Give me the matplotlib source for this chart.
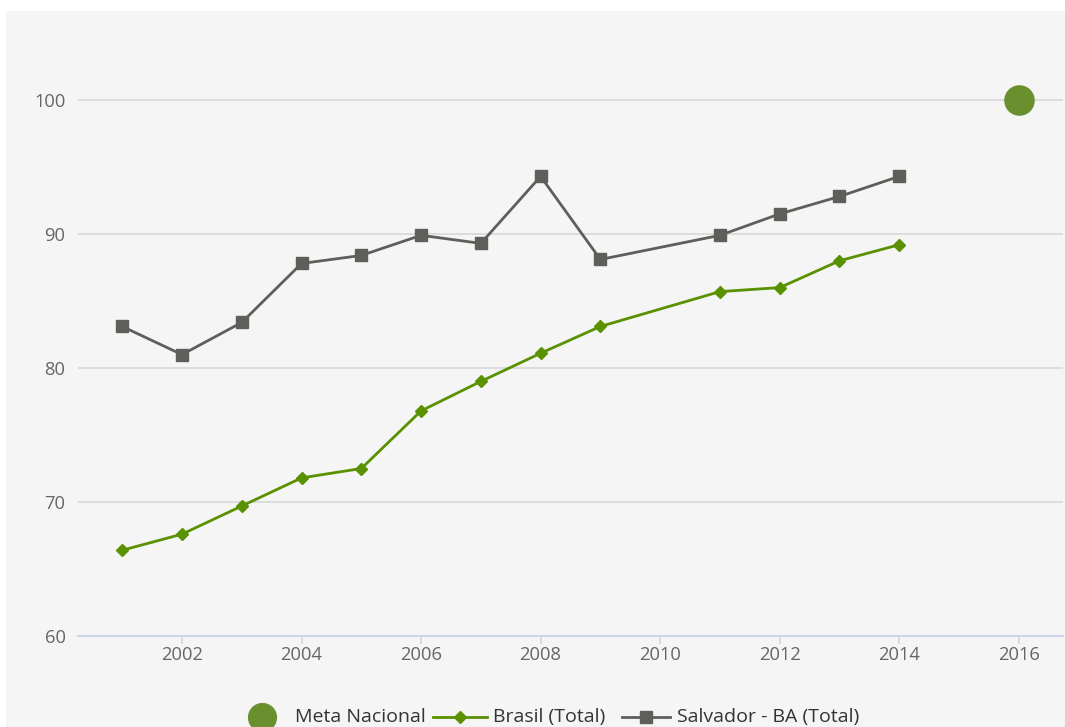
import matplotlib
matplotlib.use("Agg")
import matplotlib.pyplot as plt
from matplotlib.lines import Line2D
from matplotlib.patches import Rectangle
import numpy as np

# Series data
years = [2001, 2002, 2003, 2004, 2005, 2006, 2007, 2008, 2009, 2011, 2012, 2013, 2014]
brasil = [66.4, 67.6, 69.7, 71.8, 72.5, 76.8, 79.0, 81.1, 83.1, 85.7, 86.0, 88.0, 89.2]
salvador = [83.1, 81.0, 83.4, 87.8, 88.4, 89.9, 89.3, 94.3, 88.1, 89.9, 91.5, 92.8, 94.3]
meta_year = [2016]
meta_value = [100]

x_ticks = [2002, 2004, 2006, 2008, 2010, 2012, 2014, 2016]
y_ticks = [60, 70, 80, 90, 100]

labels = ["Meta Nacional", "Brasil (Total)", "Salvador - BA (Total)"]

GREEN = "#5a9100"
META = "#6a8f2f"
GRAY = "#5e5f5a"
GRID = "#d8d8d8"
AXIS = "#ccd6eb"
TICKTXT = "#666666"
LEGTXT = "#333333"
FONT = "Open Sans"

W, H = 1065, 727
fig = plt.figure(figsize=(W / 100, H / 100), dpi=100, facecolor="white")

# light panel behind the chart
fig.patches.append(Rectangle((6 / W, 0), (W - 6) / W, (H - 11) / H,
                             transform=fig.transFigure, facecolor="#f5f5f5",
                             edgecolor="none", zorder=-10))

left, right = 78 / W, 1063 / W
bottom, top = 1 - 636 / H, 1 - 40 / H
ax = fig.add_axes([left, bottom, right - left, top - bottom])
ax.set_zorder(1)
ax.set_facecolor("none")

# 2010 is absent from both series, so the line joins 2009 to 2011
ax.plot(years, salvador, color=GRAY, lw=2.0, marker="s", ms=8.5, zorder=3)
ax.plot(years, brasil, color=GREEN, lw=2.0, marker="D", ms=6, zorder=4)
ax.plot(meta_year, meta_value, linestyle="none", marker="o", ms=21,
        color=META, zorder=5, clip_on=False)

ax.set_xlim(2000.26, 2016.74)
ax.set_ylim(60, 60 + (636 - 40) / 13.4)

ax.set_yticks(y_ticks)
ax.set_xticks(x_ticks)
ax.set_xticklabels([str(t) for t in x_ticks])
ax.set_yticklabels([str(t) for t in y_ticks])

for t in y_ticks[1:]:
    ax.axhline(t, color=GRID, lw=1.2, zorder=1)

for s in ["top", "right", "left"]:
    ax.spines[s].set_visible(False)
ax.spines["bottom"].set_color(AXIS)
ax.spines["bottom"].set_linewidth(1.5)

ax.tick_params(axis="y", length=0, pad=9, labelsize=13.2, labelcolor=TICKTXT)
ax.tick_params(axis="x", length=6, width=1.2, color=AXIS, pad=1.5,
               labelsize=13.2, labelcolor=TICKTXT)
for lab in ax.get_xticklabels() + ax.get_yticklabels():
    lab.set_fontfamily(FONT)

# legend row at the bottom
ly = 1 - 717 / H
fs = 14
fig.add_artist(Line2D([262 / W], [ly], marker="o", ms=20, color=META,
                      linestyle="none", transform=fig.transFigure))
fig.text(295 / W, ly, labels[0], fontsize=fs, color=LEGTXT, family=FONT,
         va="center", ha="left")
fig.add_artist(Line2D([433 / W, 487 / W], [ly, ly], color=GREEN, lw=2.0,
                      transform=fig.transFigure))
fig.add_artist(Line2D([460 / W], [ly], marker="D", ms=6, color=GREEN,
                      linestyle="none", transform=fig.transFigure))
fig.text(493 / W, ly, labels[1], fontsize=fs, color=LEGTXT, family=FONT,
         va="center", ha="left")
fig.add_artist(Line2D([622 / W, 670 / W], [ly, ly], color=GRAY, lw=2.0,
                      transform=fig.transFigure))
fig.add_artist(Line2D([646 / W], [ly], marker="s", ms=8.5, color=GRAY,
                      linestyle="none", transform=fig.transFigure))
fig.text(677 / W, ly, labels[2], fontsize=fs, color=LEGTXT, family=FONT,
         va="center", ha="left")

fig.savefig("out.png", dpi=100, facecolor="white")
